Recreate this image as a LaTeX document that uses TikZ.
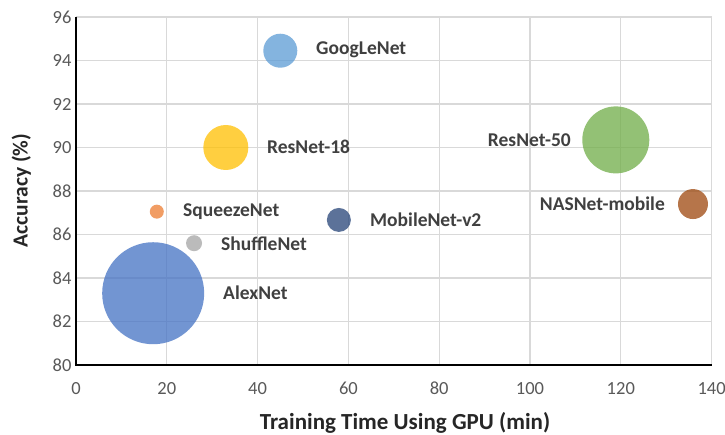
\documentclass[tikz,border=0pt]{standalone}
\usepackage{fontspec}
\setmainfont{Carlito}
\definecolor{gridc}{RGB}{217,217,217}
\definecolor{tickc}{RGB}{89,89,89}
\definecolor{labc}{RGB}{64,64,64}
\definecolor{cAlex}{HTML}{4472C4}
\definecolor{cSqueeze}{HTML}{ED7D31}
\definecolor{cShuffle}{HTML}{A5A5A5}
\definecolor{cResEighteen}{HTML}{FFC000}
\definecolor{cGoog}{HTML}{5B9BD5}
\definecolor{cResFifty}{HTML}{70AD47}
\definecolor{cMobile}{HTML}{264478}
\definecolor{cNAS}{HTML}{9E480E}
\tikzset{
  gridline/.style={draw=gridc, line width=1.1pt},
  axisline/.style={draw=black, line width=1.2pt},
  bubble/.style={fill opacity=0.75, draw=none},
  ticklab/.style={text=tickc, font=\fontsize{18.5}{20}\selectfont, inner sep=0pt},
  ptlab/.style={text=labc, font=\bfseries\fontsize{19.5}{21}\selectfont, inner sep=0pt},
  axtitle/.style={text=black!85, font=\bfseries\fontsize{23}{25}\selectfont, inner sep=0pt},
  aytitle/.style={text=black!85, font=\bfseries\fontsize{21.5}{23}\selectfont, inner sep=0pt}
}
\begin{document}
\begin{tikzpicture}[x=1pt,y=1pt]
\useasboundingbox (0,0) rectangle (725,434);
\fill[white] (0,0) rectangle (725,434);
\begin{scope}[shift={(76,69)}, x=4.54pt, y=21.75pt]
  % gridlines
  \foreach \t in {20,40,...,140} \draw[gridline] (\t,0) -- (\t,16);
  \foreach \a in {2,4,...,16} \draw[gridline] (0,\a) -- (140,\a);
  % axes
  \draw[axisline] (0,16) -- (0,0) -- (140,0);
  % tick labels
  \foreach \t in {0,20,...,140} \node[ticklab] (xt\t) at (\t,-1.08) {\t};
  \foreach \a in {80,82,...,96} \node[ticklab, anchor=east] (yt\a) at (-0.95,\a-80) {\a};
  % bubbles
  \fill[bubble, cAlex] (17,3.3) circle[radius=51pt];
  \fill[bubble, cSqueeze] (17.8,7.05) circle[radius=7pt];
  \fill[bubble, cShuffle] (26,5.6) circle[radius=8pt];
  \fill[bubble, cResEighteen] (33,10) circle[radius=22.5pt];
  \fill[bubble, cGoog] (45,14.45) circle[radius=17pt];
  \fill[bubble, cMobile] (57.9,6.67) circle[radius=12pt];
  \fill[bubble, cResFifty] (118.9,10.35) circle[radius=33.5pt];
  \fill[bubble, cNAS] (135.9,7.4) circle[radius=15pt];
\end{scope}
% point labels
\node[ptlab, anchor=west] (lgoog) at (316,384) {GoogLeNet};
\node[ptlab, anchor=west] (lr18) at (267,287) {ResNet-18};
\node[ptlab, anchor=east] (lr50) at (571,294) {ResNet-50};
\node[ptlab, anchor=east] (lnas) at (665,230) {NASNet-mobile};
\node[ptlab, anchor=west] (lsq) at (183,222) {SqueezeNet};
\node[ptlab, anchor=west] (lmob) at (370,214) {MobileNet-v2};
\node[ptlab, anchor=west] (lsh) at (221,190) {ShuffleNet};
\node[ptlab, anchor=west] (lalex) at (223,141) {AlexNet};
% axis titles
\node[axtitle, anchor=base] (xtitle) at (405,5) {Training Time Using GPU (min)};
\node[aytitle, rotate=90, anchor=base] (ytitle) at (27.5,243.5) {Accuracy (\%)};
\end{tikzpicture}
\end{document}
